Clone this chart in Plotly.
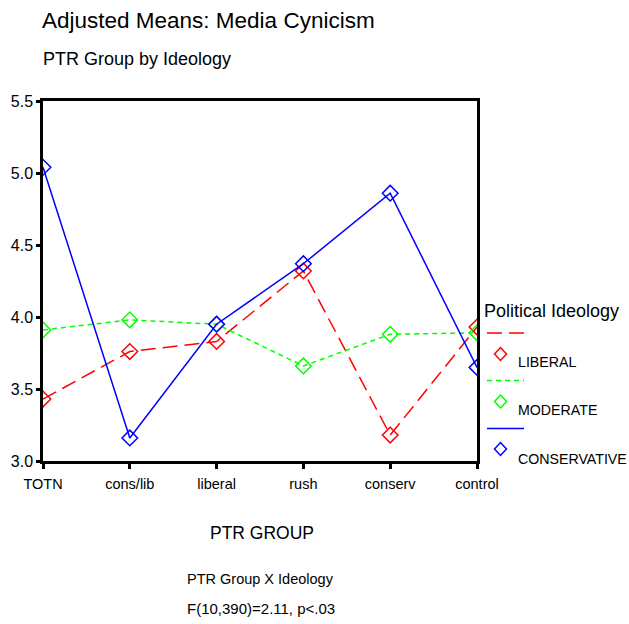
import plotly.graph_objects as go

# ---- data ----
groups = ["TOTN", "cons/lib", "liberal", "rush", "conserv", "control"]
series_names = ["LIBERAL", "MODERATE", "CONSERVATIVE"]
liberal = [3.43, 3.76, 3.83, 4.32, 3.18, 3.93]
moderate = [3.91, 3.98, 3.95, 3.66, 3.88, 3.89]
conservative = [5.04, 3.16, 3.95, 4.37, 4.86, 3.65]
y_ticks = [3.0, 3.5, 4.0, 4.5, 5.0, 5.5]

title_text = "Adjusted Means: Media Cynicism"
subtitle_text = "PTR Group by Ideology"
x_title = "PTR GROUP"
foot1 = "PTR Group X Ideology"
foot2 = "F(10,390)=2.11, p<.03"
legend_title = "Political Ideology"

colors = ["#FF0000", "#00FF00", "#0000FF"]
dashes = ["15px,7px", "5px,4px", "solid"]
values = [liberal, moderate, conservative]

FONT = "Liberation Sans, Arial, sans-serif"

W, H = 629, 624
L, R, T, B = 43, 477, 101, 461


def px(x):
    return (x - L) / (R - L)


def py(y):
    return (B - y) / (B - T)


fig = go.Figure()
for name, vals, c, d in zip(series_names, values, colors, dashes):
    fig.add_trace(go.Scatter(
        x=groups, y=vals, name=name, mode="lines+markers",
        line=dict(color=c, width=1.5, dash=d),
        marker=dict(symbol="diamond-open", size=12, color=c, line=dict(width=1.5, color=c)),
        showlegend=False,
    ))

annotations = []


def txt(text, x, y, size, xanchor="left"):
    annotations.append(dict(
        text=text, x=px(x), y=py(y), xref="paper", yref="paper",
        xanchor=xanchor, yanchor="middle", showarrow=False,
        font=dict(size=size, family=FONT, color="black"),
    ))


txt(title_text, 40, 21, 22.5)
txt(subtitle_text, 41, 59, 18)
txt(x_title, 262, 533, 17.5, "center")
txt(foot1, 260, 579, 14.5, "center")
txt(foot2, 261, 608, 15, "center")
txt(legend_title, 482, 311, 18)

shapes = []
line_y = [333, 380.5, 428.5]
marker_y = [354, 401.5, 449]
label_y = [362, 410, 458.5]
for i, (name, c, d) in enumerate(zip(series_names, colors, dashes)):
    shapes.append(dict(type="line", xref="paper", yref="paper",
                       x0=px(487), x1=px(524), y0=py(line_y[i]), y1=py(line_y[i]),
                       line=dict(color=c, width=1.5, dash=d)))
    cx, cy = 500.5, marker_y[i]
    path = "M {} {} L {} {} L {} {} L {} {} Z".format(
        px(cx), py(cy - 6.5), px(cx + 6), py(cy), px(cx), py(cy + 6.5), px(cx - 6), py(cy))
    shapes.append(dict(type="path", xref="paper", yref="paper", path=path,
                       line=dict(color=c, width=1.5), fillcolor="rgba(0,0,0,0)"))
    txt(name, 516, label_y[i], 14.2)

fig.update_layout(
    width=W, height=H,
    margin=dict(l=L, r=W - R, t=T, b=H - B, pad=0),
    paper_bgcolor="white", plot_bgcolor="white",
    showlegend=False,
    annotations=annotations,
    shapes=shapes,
    xaxis=dict(
        type="category", range=[0, len(groups) - 1],
        showgrid=False, zeroline=False,
        showline=True, linecolor="black", linewidth=2.5, mirror=True,
        ticks="outside", ticklen=5, tickwidth=3, tickcolor="black",
        ticklabelstandoff=3,
        tickfont=dict(size=14.5, family=FONT, color="black"),
    ),
    yaxis=dict(
        range=[3.0, 5.5], tickvals=y_ticks, tickformat=".1f",
        showgrid=False, zeroline=False,
        showline=True, linecolor="black", linewidth=2.5, mirror=True,
        ticks="outside", ticklen=4, tickwidth=3, tickcolor="black",
        tickfont=dict(size=16, family=FONT, color="black"),
    ),
)

fig.write_html(
    "out.html",
    config={"displayModeBar": False},
    post_script="document.body.style.margin='0';document.body.style.padding='0';",
)
